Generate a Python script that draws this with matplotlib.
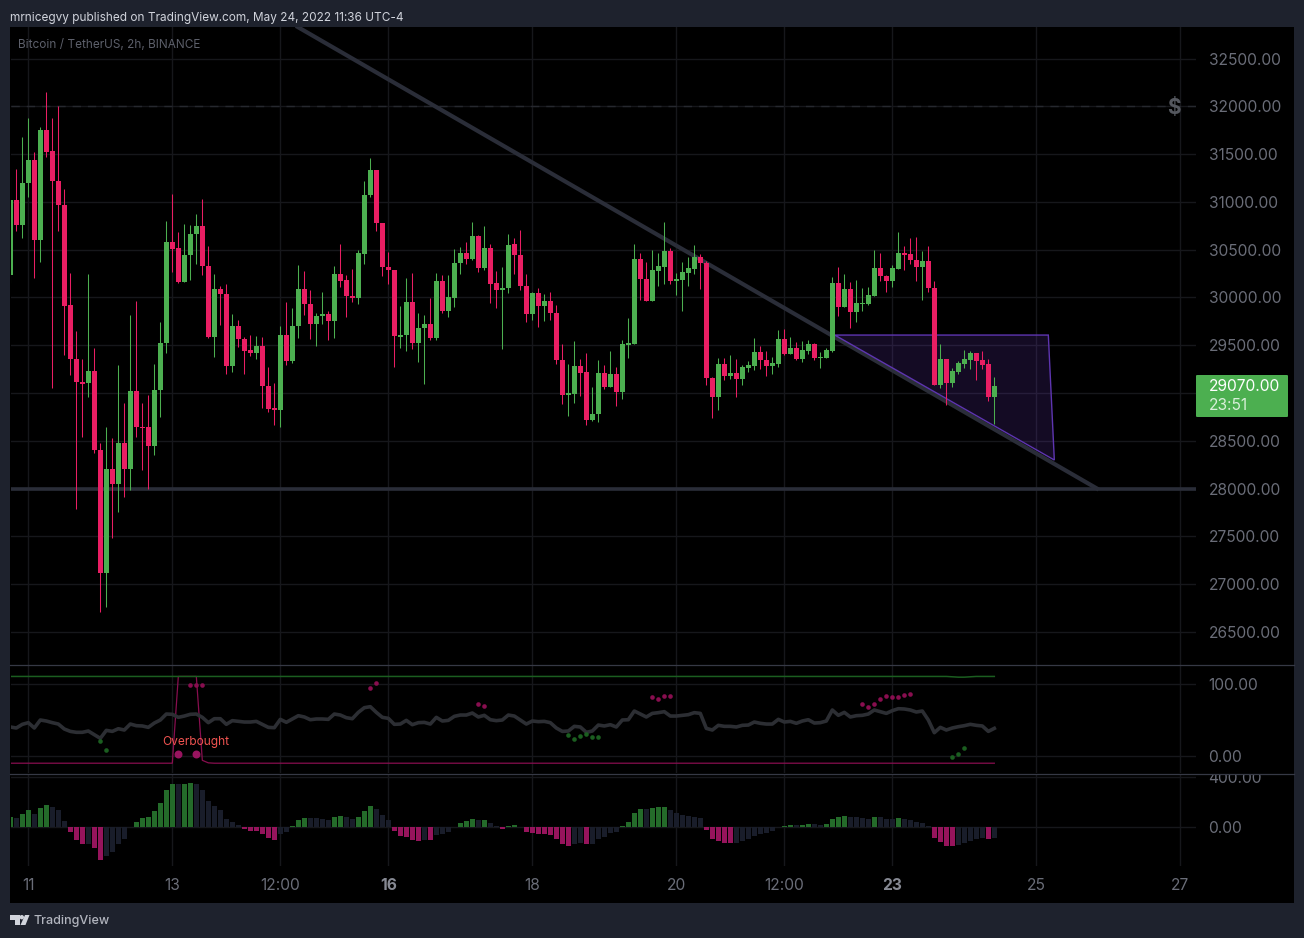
import matplotlib
matplotlib.use("Agg")
import matplotlib.pyplot as plt
from matplotlib.lines import Line2D
from matplotlib.patches import Rectangle, Polygon, Circle, FancyBboxPatch
from matplotlib.transforms import Bbox

# candles, one per 2h bar
opens = [
    30230, 31020, 30760, 31200, 31440, 30600, 31750, 31530, 31220, 30970,
    29920, 29360, 29115, 29100, 29230, 28400, 27120, 28200, 28050, 28480,
    28200, 29020, 28645, 28640, 28440, 29030, 29520, 30580, 30520, 30160,
    30440, 30660, 30745, 30330, 29590, 30090, 30040, 29280, 29700, 29560,
    29450, 29420, 29490, 29070, 28838, 28820, 29610, 29330, 29700, 30090,
    29930, 29720, 29805, 29830, 29750, 30250, 30180, 30015, 29990, 30450,
    31070, 31335, 30780, 30320, 30290, 29590, 29605, 29955, 29520, 29680,
    29725, 29570, 30175, 29860, 29990, 30360, 30470, 30405, 30645, 30310,
    30520, 30150, 30080, 30095, 30555, 30445, 30120, 29825, 30045, 29910,
    29960, 29840, 29350, 28980, 28990, 29280, 29215, 28715, 28775, 29205,
    29060, 29195, 29010, 29500, 29510, 30400, 30195, 29960, 30275, 30320,
    30485, 30170, 30180, 30255, 30295, 30420, 30365, 29160, 28955, 29300,
    29175, 29205, 29145, 29265, 29285, 29425, 29350, 29280, 29305, 29565,
    29405, 29470, 29355, 29440, 29510, 29365, 29370, 29440, 30150, 29895,
    30085, 29845, 29930, 29930, 30015, 30305, 30225, 30170, 30300, 30460,
    30450, 30395, 30315, 30380, 30100, 29080, 29355, 29105, 29220, 29305,
    29345, 29415, 29340, 29300, 28955,
]
closes = [
    31020, 30760, 31200, 31440, 30600, 31750, 31520, 31220, 30970, 29910,
    29360, 29110, 29095, 29230, 28400, 27120, 28200, 28050, 28480, 28200,
    29020, 28640, 28635, 28440, 29030, 29520, 30580, 30510, 30160, 30440,
    30660, 30745, 30330, 29590, 30090, 30040, 29280, 29700, 29560, 29440,
    29420, 29490, 29070, 28830, 28820, 29610, 29330, 29700, 30090, 29930,
    29720, 29810, 29830, 29750, 30250, 30175, 30010, 29990, 30460, 31075,
    31335, 30775, 30315, 30285, 29595, 29610, 29955, 29520, 29685, 29725,
    29570, 30175, 29860, 30000, 30365, 30470, 30405, 30645, 30310, 30520,
    30145, 30080, 30100, 30550, 30440, 30115, 29825, 30045, 29910, 29960,
    29835, 29345, 28980, 29000, 29280, 29210, 28715, 28780, 29205, 29060,
    29195, 29010, 29510, 29520, 30400, 30190, 29960, 30285, 30325, 30485,
    30170, 30190, 30265, 30305, 30420, 30355, 29155, 28955, 29300, 29175,
    29205, 29145, 29270, 29290, 29425, 29345, 29280, 29310, 29565, 29405,
    29470, 29355, 29450, 29510, 29365, 29375, 29450, 30150, 29895, 30085,
    29845, 29940, 29940, 30025, 30305, 30220, 30170, 30305, 30460, 30440,
    30390, 30315, 30380, 30095, 29080, 29355, 29105, 29230, 29310, 29355,
    29415, 29335, 29290, 28955, 29070,
]
highs = [
    31260, 31340, 31680, 31880, 31520, 31780, 32150, 31880, 32000, 31130,
    30260, 29650, 29360, 30250, 29470, 28480, 28640, 28530, 29290, 28890,
    29820, 29960, 28900, 28980, 29300, 29740, 30800, 31080, 30680, 30770,
    30760, 30870, 31025, 30540, 30250, 30120, 30140, 29830, 29760, 29590,
    29610, 29600, 29590, 29270, 29100, 29700, 29950, 29890, 30340, 30280,
    30080, 29840, 30060, 29860, 30330, 30560, 30230, 30300, 30500, 31220,
    31460, 31335, 30780, 30480, 30290, 29905, 30205, 30260, 29840, 29820,
    29990, 30260, 30230, 30230, 30510, 30530, 30585, 30790, 30655, 30750,
    30560, 30280, 30320, 30665, 30620, 30710, 30240, 30055, 30095, 30035,
    30055, 29920, 29510, 29300, 29540, 29355, 29415, 29060, 29345, 29290,
    29435, 29270, 29550, 29780, 30555, 30460, 30370, 30495, 30460, 30785,
    30515, 30255, 30370, 30420, 30545, 30450, 30380, 29165, 29365, 29365,
    29395, 29355, 29290, 29335, 29575, 29490, 29435, 29375, 29655, 29665,
    29585, 29530, 29540, 29550, 29520, 29425, 29470, 30210, 30315, 30240,
    30160, 30180, 30095, 30105, 30495, 30460, 30230, 30335, 30680, 30535,
    30620, 30630, 30485, 30535, 30170, 29510, 29355, 29260, 29335, 29450,
    29435, 29415, 29435, 29355, 29165,
]
lows = [
    30150, 30700, 30620, 31050, 30200, 30370, 31470, 29050, 30700, 29400,
    29190, 27790, 28540, 28960, 28370, 26710, 26760, 27480, 27750, 27910,
    27980, 28540, 28190, 28000, 28350, 28750, 29420, 30270, 30150, 30160,
    30180, 30350, 30230, 29570, 29380, 29710, 29200, 29220, 29480, 29200,
    29390, 29360, 28840, 28800, 28660, 28640, 29290, 29310, 29580, 29820,
    29560, 29490, 29720, 29550, 29570, 30105, 29790, 29955, 29935, 30350,
    31055, 30690, 30220, 30140, 29270, 29475, 29435, 29455, 29320, 29090,
    29550, 29550, 29835, 29790, 29895, 30250, 30350, 30395, 30270, 30290,
    29945, 29885, 29455, 30050, 30240, 30075, 29740, 29760, 29690, 29750,
    29760, 29300, 28885, 28760, 28895, 28965, 28665, 28705, 28695, 29040,
    29060, 28865, 28935, 29365, 29510, 29970, 29960, 29960, 30115, 30140,
    30140, 30025, 29855, 30115, 30240, 30085, 29080, 28735, 28820, 29135,
    29145, 28955, 29080, 29220, 29240, 29250, 29175, 29195, 29270, 29395,
    29405, 29345, 29320, 29405, 29345, 29260, 29365, 29425, 29805, 29895,
    29680, 29740, 29855, 29920, 30010, 30170, 30055, 30105, 30295, 30285,
    30345, 30170, 29970, 30055, 29080, 29050, 28875, 29060, 29195, 29260,
    29250, 29135, 29250, 28915, 28675,
]

# middle pane
rsi = [
    40.3, 38.9, 44.0, 46.3, 38.9, 50.0, 48.6, 46.3, 44.4, 37.5,
    34.2, 32.9, 32.9, 34.7, 29.6, 24.5, 35.6, 34.2, 37.9, 36.1,
    44.4, 42.1, 41.7, 39.8, 45.8, 50.0, 58.3, 57.9, 53.7, 55.5,
    57.9, 58.3, 53.7, 46.3, 51.8, 51.8, 44.0, 49.1, 48.1, 47.2,
    47.2, 48.1, 44.0, 39.8, 39.3, 50.9, 46.8, 51.4, 56.0, 54.2,
    50.4, 51.4, 51.4, 50.9, 58.3, 56.9, 53.2, 51.8, 60.6, 67.1,
    68.5, 60.6, 53.7, 52.3, 44.0, 44.4, 49.5, 43.5, 46.3, 46.7,
    44.4, 53.7, 48.6, 49.5, 55.1, 56.9, 56.9, 59.7, 54.2, 56.5,
    50.4, 49.1, 50.0, 56.9, 55.5, 50.0, 44.4, 48.6, 47.7, 48.1,
    46.3, 38.9, 34.2, 34.7, 41.2, 40.3, 32.9, 34.7, 43.0, 41.7,
    43.5, 40.3, 50.0, 50.4, 62.5, 58.3, 54.2, 59.2, 60.2, 61.6,
    55.5, 55.5, 56.5, 57.4, 60.2, 59.2, 38.4, 36.1, 42.6, 41.2,
    41.2, 40.3, 42.6, 43.0, 47.2, 45.4, 44.4, 44.4, 50.9, 47.2,
    48.1, 45.4, 48.6, 50.4, 45.8, 46.3, 48.6, 63.9, 56.5, 60.6,
    54.2, 56.0, 56.5, 58.3, 63.9, 61.6, 59.2, 63.0, 65.7, 65.3,
    63.9, 61.1, 62.5, 50.0, 32.4, 39.8, 36.1, 38.9, 40.7, 42.1,
    44.0, 42.6, 41.7, 34.2, 38.4,
]
upper_line = [110.5] * 157 + [110, 109.5, 109.5, 110] + [110.5] * 4
lower_line = [-10] * 28 + [110.5, 110.5, 110.5, 110.5, -6, -9.5] + [-10] * 131

red_dot_x = [30, 31, 32, 60, 61, 78, 79, 107, 108, 109, 110,
             142, 143, 144, 145, 146, 147, 148, 149, 150]
red_dot_y = [98.1, 98.1, 98.1, 94.0, 101.0, 71.8, 69.0, 81.5, 79.6, 82.9, 82.9,
             71.8, 68.5, 71.8, 78.7, 82.9, 81.5, 81.5, 84.3, 85.6]
green_dot_x = [15, 16, 93, 94, 95, 96, 97, 98, 157, 158, 159]
green_dot_y = [20.4, 7.9, 28.7, 23.1, 27.3, 30.1, 25.9, 25.9, -1.9, 2.3, 10.6]
big_dot_x = [28, 31]
big_dot_y = [3.2, 3.2]

# bottom pane
hist = [
    83, 72, 107, 139, 107, 155, 179, 163, 139, 51,
    -37, -101, -133, -133, -165, -261, -229, -197, -133, -93,
    0, 43, 75, 83, 131, 195, 299, 347, 347, 347,
    355, 347, 299, 211, 171, 139, 67, 43, 19, -13,
    -29, -29, -53, -85, -101, -53, -37, 11, 59, 75,
    75, 75, 67, 59, 83, 91, 83, 67, 83, 131,
    171, 147, 99, 59, -29, -69, -77, -101, -109, -101,
    -101, -61, -53, -37, 3, 35, 51, 67, 59, 59,
    35, 11, -13, 11, 19, -3, -37, -45, -53, -53,
    -61, -93, -133, -149, -133, -125, -133, -133, -93, -77,
    -45, -37, 11, 43, 115, 147, 147, 155, 163, 163,
    139, 115, 99, 91, 83, 75, -21, -93, -109, -125,
    -125, -125, -109, -93, -69, -53, -45, -29, -3, 11,
    19, 19, 19, 27, 27, 19, 27, 67, 83, 91,
    83, 83, 75, 67, 83, 83, 67, 67, 75, 67,
    59, 43, 35, 11, -85, -117, -149, -149, -141, -125,
    -109, -93, -85, -93, -85,
]
hist_kind = (
    "GNGGNGGNNN" "MMMNMMNNNN" "GGGGGGGGNG" "GNNNNNNNNM"
    "MMMMMNNGGG" "NNNNGGNNGG" "GNNNMMMMMN" "MNNNGGGGNG"
    "NNMGGMMMMM" "MMMMNNMNNN" "NNGGGGNGGG" "NNNNNNMMMM"
    "MNNNNNNNNG" "GNGGNNGGGG" "NNNNGNNNGN" "NNNNMMMMNN"
    "NNNMN"
)

price_ticks = [26500, 27000, 27500, 28000, 28500, 29000, 29500, 30000,
               30500, 31000, 31500, 32000, 32500]
# the last price label covers this one in the original
hidden_price_tick = 29000
rsi_ticks = [0, 100]
macd_ticks = [0, 400]
time_ticks = [3, 27, 45, 63, 87, 111, 129, 147, 171, 195]
time_labels = ["11", "13", "12:00", "16", "18", "20", "12:00", "23", "25", "27"]
bold_labels = ["16", "23"]

# drawings on the price pane
trend_x = [47.9, 181.1]
trend_y = [32830, 28000]
support_level = 28000
alert_level = 32000
shape_x = [137.4, 173, 174]
shape_y = [29606, 29606, 28298]

W, H = 1304, 938
FRAME = "#1e222d"
GREEN = "#4caf50"
RED = "#e91e63"
GRID = "#16171b"
DRAWING = "#2a2d38"
AXIS_TEXT = "#6a6d78"
HIST_COLORS = {"G": "#246b2a", "N": "#191d2a", "M": "#96145c"}

plt.rcParams["font.family"] = ["Inter", "Roboto", "DejaVu Sans"]


def add_pane(fig, top, bottom):
    ax = fig.add_axes([LEFT / W, 1 - bottom / H, (RIGHT - LEFT) / W, (bottom - top) / H])
    ax.set_facecolor("black")
    for spine in ax.spines.values():
        spine.set_visible(False)
    ax.set_xlim(0.03, 197.53)
    ax.set_xticks(time_ticks)
    ax.yaxis.tick_right()
    ax.tick_params(axis="both", length=0, labelsize=11.2, labelcolor=AXIS_TEXT, pad=9.4)
    ax.tick_params(axis="x", labelbottom=False)
    ax.grid(True, color=GRID, linewidth=1)
    ax.set_axisbelow(True)
    return ax


LEFT, RIGHT = 10.5, 1195.5

fig = plt.figure(figsize=(W / 100, H / 100), dpi=100, facecolor=FRAME)
fig.add_artist(Rectangle((10 / W, 1 - 903 / H), 1284 / W, 876 / H, transform=fig.transFigure,
                         facecolor="black", edgecolor="none", zorder=-1))

ax_price = add_pane(fig, 27, 665)
ax_rsi = add_pane(fig, 666, 773)
ax_macd = add_pane(fig, 774, 866)

# price pane
ax_price.set_ylim(26153, 32830)
ax_price.set_yticks(price_ticks)
ax_price.set_yticklabels(["" if p == hidden_price_tick else f"{p:.2f}" for p in price_ticks])
bars = range(len(opens))
candle_colors = [GREEN if c >= o else RED for o, c in zip(opens, closes)]
ax_price.plot(trend_x, trend_y, color=DRAWING, linewidth=3, zorder=2)
ax_price.axhline(support_level, color=DRAWING, linewidth=2.6, zorder=2)
ax_price.axhline(alert_level, color="#26282e", linewidth=1, linestyle=(0, (6, 5)), zorder=1)
ax_price.add_patch(Polygon(list(zip(shape_x, shape_y)), closed=True, facecolor="#673ab7",
                           alpha=0.2, edgecolor="none", zorder=3))
ax_price.add_patch(Polygon(list(zip(shape_x, shape_y)), closed=True, fill=False,
                           edgecolor="#5e35b1", linewidth=1, zorder=3))
wicks = ax_price.vlines(bars, lows, highs, colors=candle_colors, linewidth=0.75, zorder=4)
wicks.set_snap(True)
ax_price.bar(bars, [c - o for o, c in zip(opens, closes)], bottom=opens, width=0.83,
             color=candle_colors, linewidth=0, zorder=5)

# middle pane
ax_rsi.set_ylim(-23.6, 125)
ax_rsi.set_yticks(rsi_ticks)
ax_rsi.set_yticklabels([f"{v:.2f}" for v in rsi_ticks])
ax_rsi.plot(bars, lower_line, color="#880e4f", linewidth=0.9, zorder=2)
ax_rsi.plot(bars, upper_line, color="#1b5e20", linewidth=1.1, zorder=2.5)
ax_rsi.plot(bars, rsi, color="#2c2e33", linewidth=2.6, zorder=3, solid_joinstyle="round")
ax_rsi.scatter(red_dot_x, red_dot_y, s=11, color="#880e4f", linewidths=0, zorder=4)
ax_rsi.scatter(green_dot_x, green_dot_y, s=11, color="#1b5e20", linewidths=0, zorder=4)
ax_rsi.scatter(big_dot_x, big_dot_y, s=33, color="#98145f", linewidths=0, zorder=4)
ax_rsi.text(30.9, 19.9, "Overbought", color="#ef5350", fontsize=8.6, ha="center", va="center", zorder=5)

# bottom pane
ax_macd.set_ylim(-312, 424)
ax_macd.set_yticks(macd_ticks)
ax_macd.set_yticklabels([f"{v:.2f}" for v in macd_ticks])
ax_macd.bar(bars, hist, width=0.83, color=[HIST_COLORS[k] for k in hist_kind], linewidth=0, zorder=3)
ax_macd.set_xticklabels(time_labels)
ax_macd.tick_params(axis="x", labelbottom=True, pad=8.6)
for label in ax_macd.get_xticklabels():
    if label.get_text() in bold_labels:
        label.set_fontweight("bold")
        label.set_color("#868993")

# the 400 label sits under the pane separator and is cut by it
for label in ax_macd.get_yticklabels():
    label.set_clip_box(Bbox([[1196, 0], [1294, H - 774]]))
    label.set_clip_on(True)

# pane separators
for y in [665.4, 773.6]:
    fig.add_artist(Line2D([10 / W, 1294 / W], [1 - y / H, 1 - y / H], color="#363945",
                          linewidth=0.9, transform=fig.transFigure, zorder=6))

# last price label
fig.add_artist(FancyBboxPatch((1196 / W, 1 - 417 / H), 92 / W, 42 / H,
                              boxstyle="round,pad=0,rounding_size=0.001",
                              transform=fig.transFigure, facecolor=GREEN, edgecolor="none", zorder=6))
fig.text(1209 / W, 1 - 386.5 / H, f"{closes[-1]:.2f}", color="white", fontsize=11.2, va="center", zorder=7)
fig.text(1209 / W, 1 - 405.5 / H, "23:51", color="#d8efd9", fontsize=11.2, va="center", zorder=7)
fig.text(1174 / W, 1 - 107.5 / H, "$", color="#55585f", fontsize=15, fontweight="bold",
         ha="center", va="center", zorder=7)

# titles
fig.text(10 / W, 1 - 17.5 / H, "mrnicegvy published on TradingView.com, May 24, 2022 11:36 UTC-4",
         color="#d1d4dc", fontsize=8.5, va="center")
fig.text(18 / W, 1 - 44.5 / H, "Bitcoin / TetherUS, 2h, BINANCE", color="#5d606b", fontsize=8.5, va="center")

# logo
logo_color = "#d1d4dc"
logo_parts = [
    [(10, 915), (19.5, 915), (19.5, 925), (15, 925), (15, 919.5), (10, 919.5)],
    [(25, 915), (29.5, 915), (25.5, 925), (20.5, 925)],
]
for part in logo_parts:
    fig.add_artist(Polygon([(x / W, 1 - y / H) for x, y in part], closed=True, facecolor=logo_color,
                           edgecolor="none", transform=fig.transFigure))
fig.add_artist(Circle((21.8, H - 917.2), 2.2, facecolor=logo_color, edgecolor="none",
                      transform=matplotlib.transforms.IdentityTransform()))
fig.text(33.5 / W, 1 - 920.5 / H, "TradingView", color="#b2b5be", fontsize=9, fontweight="medium", va="center")

fig.savefig("out.png", dpi=100, facecolor=FRAME)
